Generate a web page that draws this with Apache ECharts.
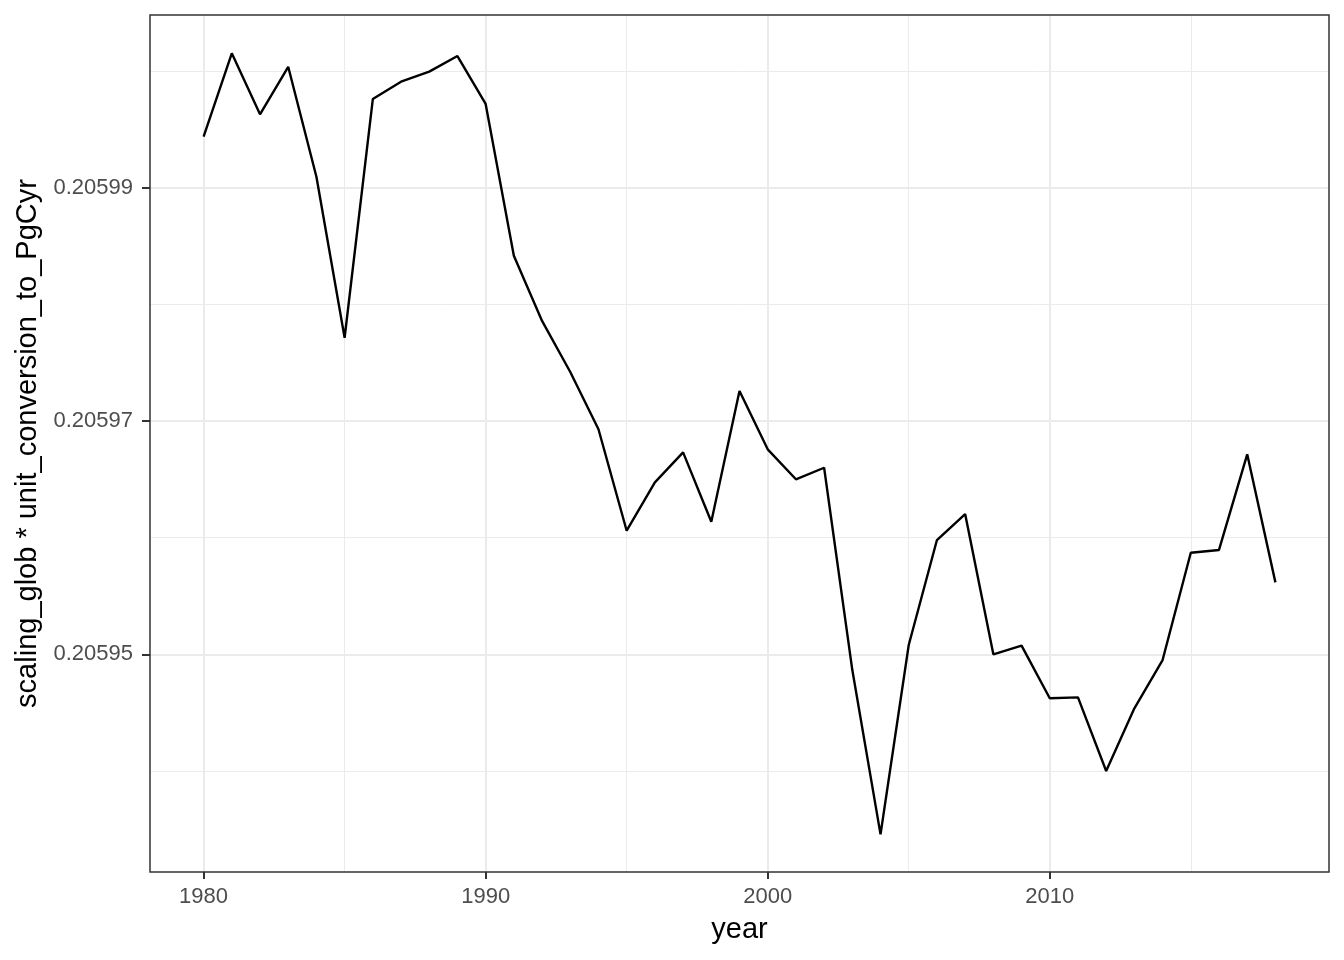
<!DOCTYPE html>
<html>
<head>
<meta charset="utf-8">
<script src="https://cdn.jsdelivr.net/npm/echarts@6/dist/echarts.min.js"></script>
<style>html,body{margin:0;padding:0;background:#fff}#c{width:1344px;height:960px}</style>
</head>
<body>
<div id="c"></div>
<script>
var years = [1980,1981,1982,1983,1984,1985,1986,1987,1988,1989,1990,1991,1992,1993,1994,1995,1996,1997,1998,1999,2000,2001,2002,2003,2004,2005,2006,2007,2008,2009,2010,2011,2012,2013,2014,2015,2016,2017,2018];
var values = [0.20599439,0.20600154,0.20599631,0.20600039,0.20599096,0.20597715,0.20599762,0.20599911,0.20599997,0.20600131,0.20599720,0.20598419,0.20597859,0.20597421,0.20596930,0.20596060,0.20596475,0.20596732,0.20596137,0.20597258,0.20596758,0.20596501,0.20596600,0.20594865,0.20593456,0.20595080,0.20595980,0.20596203,0.20595000,0.20595074,0.20594623,0.20594631,0.20593999,0.20594537,0.20594951,0.20595871,0.20595895,0.20596715,0.20595617];
var xMajorTicks = [1980,1990,2000,2010];
var xMinorTicks = [1985,1995,2005,2015];
var yMajorTicks = [0.20595,0.20597,0.20599];
var yMinorTicks = [0.20594,0.20596,0.20598,0.20600];
var xLabel = 'year';
var yLabel = 'scaling_glob * unit_conversion_to_PgCyr';

var xMin = 1978.1, xMax = 2019.9;
var yMin = 0.20593133, yMax = 0.20600483;
var FONT = '"Liberation Sans", Arial, sans-serif';

var chart = echarts.init(document.getElementById('c'), null, {renderer:'canvas'});
var data = years.map(function(y,i){return [y, values[i]];});
chart.setOption({
  animation:false,
  backgroundColor:'#ffffff',
  grid:{left:150,right:15,top:15,bottom:88,show:true,borderColor:'#333333',borderWidth:1.5,backgroundColor:'transparent',z:3},
  xAxis:[{
    type:'value',min:xMin,max:xMax,position:'bottom',
    name:xLabel,nameLocation:'middle',nameGap:43,
    nameTextStyle:{fontFamily:FONT,fontSize:29,color:'#000000'},
    axisLine:{show:false},
    axisTick:{show:true,length:7,customValues:xMajorTicks,lineStyle:{color:'#333333',width:2}},
    axisLabel:{show:true,customValues:xMajorTicks,margin:14,fontFamily:FONT,fontSize:22,color:'#4D4D4D',formatter:function(v){return String(Math.round(v));}},
    splitLine:{show:true,lineStyle:{color:'#EBEBEB',width:2}}
  },{
    type:'value',min:xMin,max:xMax,position:'bottom',
    axisLine:{show:false},
    axisTick:{show:false,customValues:xMinorTicks},
    axisLabel:{show:false,customValues:xMinorTicks},
    splitLine:{show:true,lineStyle:{color:'#EBEBEB',width:1}}
  }],
  yAxis:[{
    type:'value',min:yMin,max:yMax,position:'left',
    name:yLabel,nameLocation:'middle',nameGap:106,
    nameTextStyle:{fontFamily:FONT,fontSize:29,color:'#000000'},
    axisLine:{show:false},
    axisTick:{show:true,length:8,customValues:yMajorTicks,lineStyle:{color:'#333333',width:2}},
    axisLabel:{show:true,customValues:yMajorTicks,margin:17,padding:[4,0,0,0],fontFamily:FONT,fontSize:22,color:'#4D4D4D',formatter:function(v){return v.toFixed(5);}},
    splitLine:{show:true,lineStyle:{color:'#EBEBEB',width:2}}
  },{
    type:'value',min:yMin,max:yMax,position:'left',
    axisLine:{show:false},
    axisTick:{show:false,customValues:yMinorTicks},
    axisLabel:{show:false,customValues:yMinorTicks},
    splitLine:{show:true,lineStyle:{color:'#EBEBEB',width:1}}
  }],
  series:[{
    type:'line',data:data,xAxisIndex:0,yAxisIndex:0,
    showSymbol:false,symbol:'none',
    lineStyle:{color:'#000000',width:2.4},
    z:5
  }]
});
</script>
</body>
</html>
